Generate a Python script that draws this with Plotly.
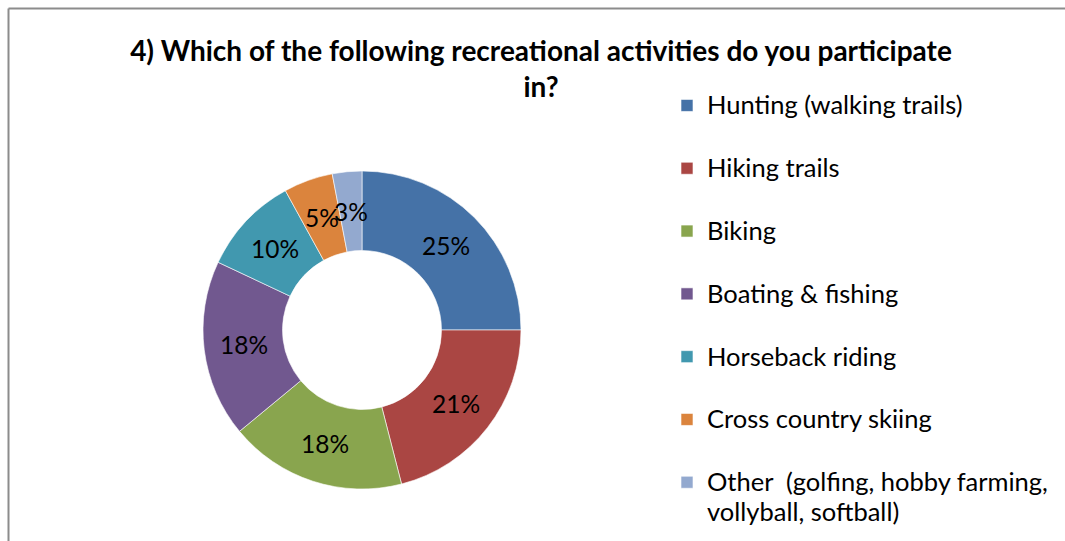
import math
import plotly.graph_objects as go

# Survey responses: share of respondents per recreational activity (%)
activities = [
    "Hunting (walking trails)",
    "Hiking trails",
    "Biking",
    "Boating & fishing",
    "Horseback riding",
    "Cross country skiing",
    "Other  (golfing, hobby farming,<br>vollyball, softball)",
]
shares = [25, 21, 18, 18, 10, 5, 3]
colors = ["#4572A7", "#AA4643", "#89A54E", "#71588F", "#4198AF", "#DB843D", "#93A9CF"]

W, H = 1065, 541
FONT = "Lato, Calibri, Arial, sans-serif"

# donut geometry in pixels
cx, cy, R = 362, 330, 159
hole = 0.5


def legend_entry(label):
    # larger glyphs inside each entry; single-line entries get an empty
    # second line so the entries are spread down the right-hand side
    lines = label.split("<br>")
    styled = "<br>".join(f"<span style='font-size:25.5px'>{ln}</span>" for ln in lines)
    return styled if len(lines) > 1 else styled + "<br> "


legend_labels = [legend_entry(a) for a in activities]

fig = go.Figure(
    go.Pie(
        labels=legend_labels,
        values=shares,
        sort=False,
        direction="clockwise",
        rotation=0,
        hole=hole,
        textinfo="none",
        hoverinfo="percent",
        marker=dict(colors=colors, line=dict(color="white", width=0.6)),
        domain=dict(
            x=[(cx - R) / W, (cx + R) / W],
            y=[1 - (cy + R) / H, 1 - (cy - R) / H],
        ),
    )
)

# percentage labels placed at the middle of the ring for each slice
total = sum(shares)
r_mid = R * (1 + hole) / 2
annotations = []
cum = 0
for v in shares:
    mid = (cum + v / 2) / total
    cum += v
    theta = 2 * math.pi * mid
    px = cx + r_mid * math.sin(theta)
    py = cy - r_mid * math.cos(theta)
    annotations.append(
        dict(
            x=px / W, y=1 - py / H, xref="paper", yref="paper",
            text=f"{round(100 * v / total)}%", showarrow=False,
            font=dict(family=FONT, size=24.5, color="black"),
            xanchor="center", yanchor="middle",
        )
    )

fig.update_layout(
    width=W,
    height=H,
    margin=dict(l=0, r=0, t=0, b=0),
    paper_bgcolor="white",
    plot_bgcolor="white",
    title=dict(
        text="4) Which of the following recreational activities do you participate<br>in?",
        x=541 / W, xanchor="center",
        y=1 - 61 / H, yanchor="top", yref="container",
        font=dict(family=FONT, size=28, color="black", weight="bold"),
    ),
    legend=dict(
        x=667 / W, xanchor="left",
        y=1 - 84 / H, yanchor="top",
        valign="top",
        font=dict(family=FONT, size=23, color="black"),
        bgcolor="rgba(0,0,0,0)",
    ),
    annotations=annotations,
    shapes=[
        # chart frame: top and left edges
        dict(type="line", xref="paper", yref="paper",
             x0=8.5 / W, x1=1.0, y0=1 - 8.5 / H, y1=1 - 8.5 / H,
             line=dict(color="#8c8c8c", width=2)),
        dict(type="line", xref="paper", yref="paper",
             x0=8.5 / W, x1=8.5 / W, y0=0.0, y1=1 - 8.5 / H,
             line=dict(color="#8c8c8c", width=2)),
    ],
    showlegend=True,
)

fig.write_html("out.html", config={"displayModeBar": False, "staticPlot": True})
